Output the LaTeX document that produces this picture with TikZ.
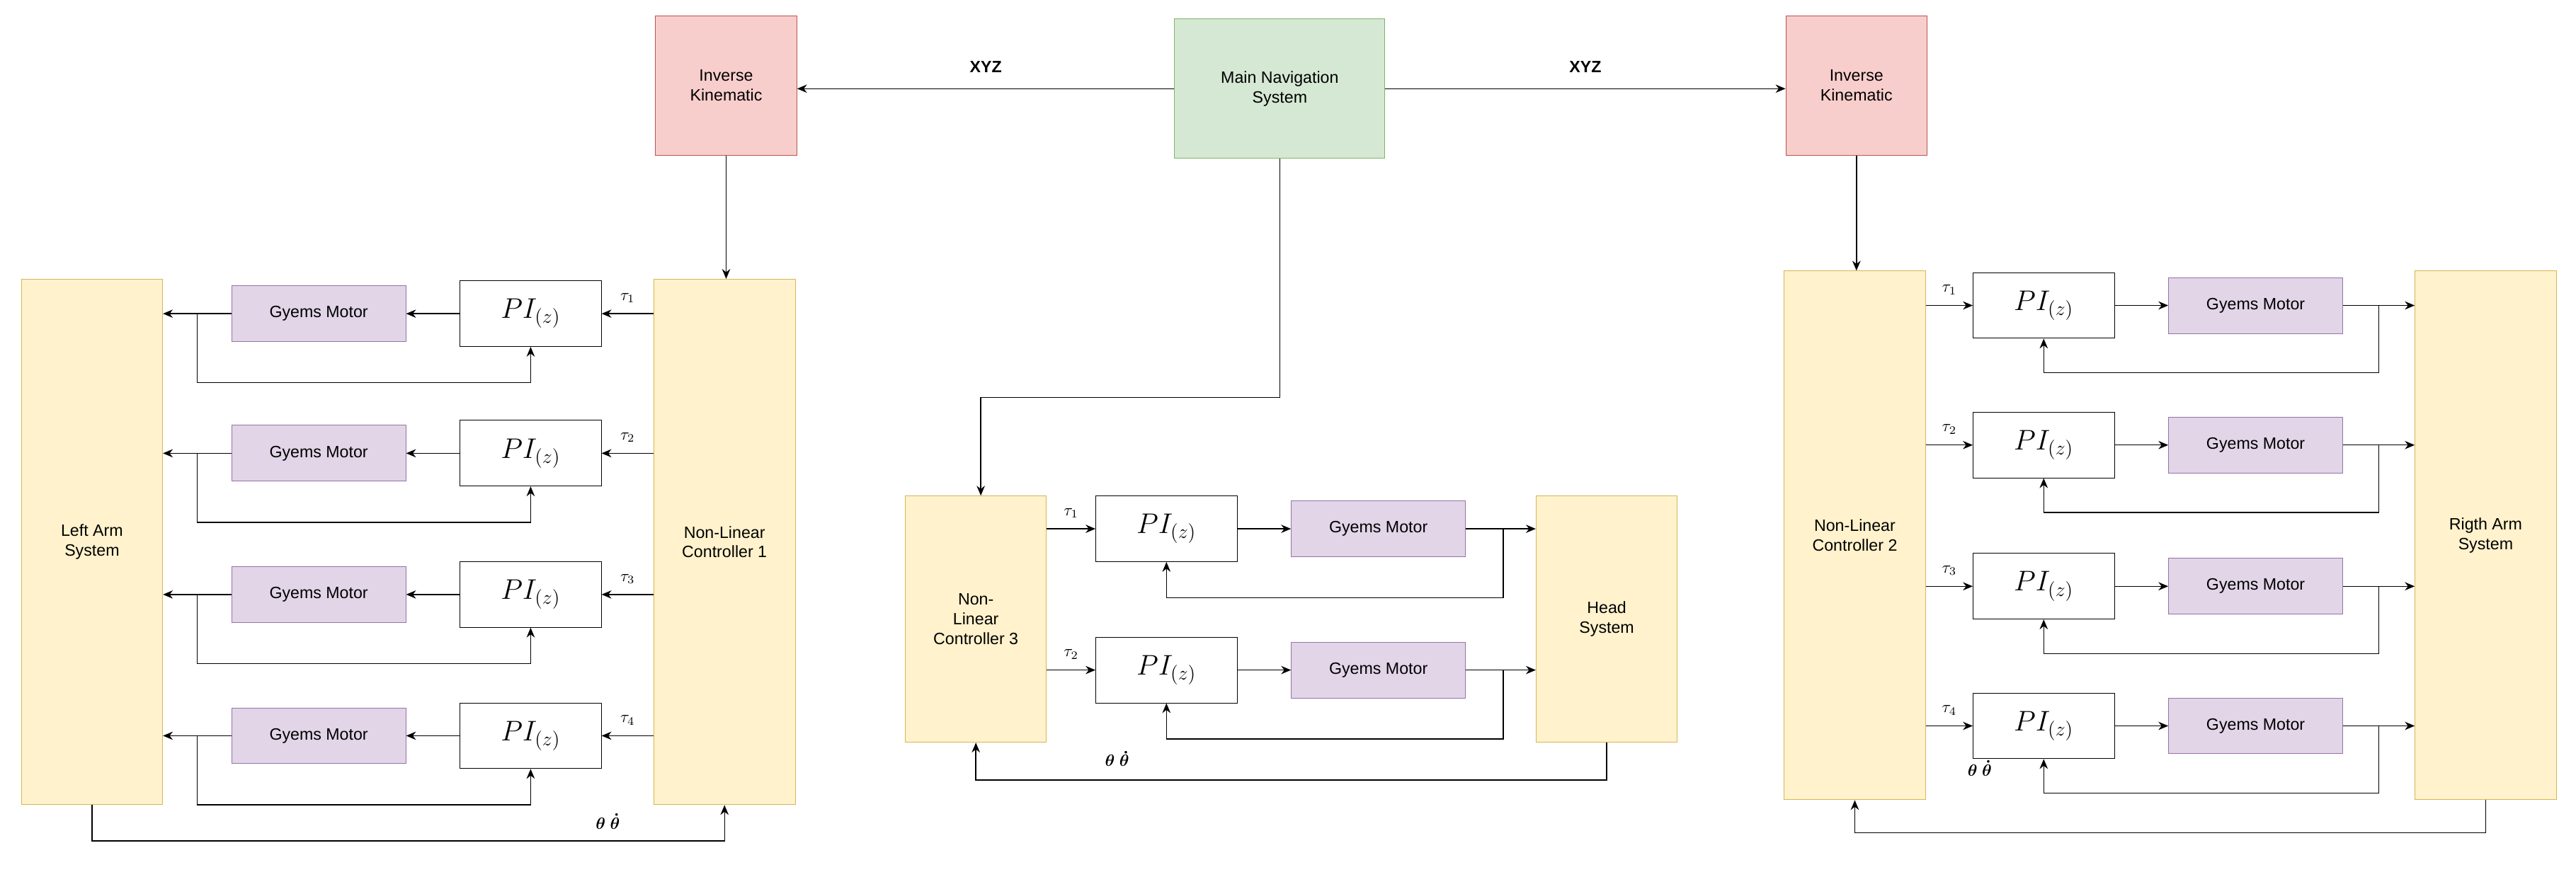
\documentclass[tikz,border=0pt]{standalone}
\usepackage{amsmath}
\usepackage{fontspec}
\setmainfont{Liberation Sans}
\usetikzlibrary{arrows.meta}
\definecolor{pinkf}{HTML}{F8CECC}\definecolor{pinkd}{HTML}{B85450}
\definecolor{greenf}{HTML}{D5E8D4}\definecolor{greend}{HTML}{82B366}
\definecolor{yelf}{HTML}{FFF2CC}\definecolor{yeld}{HTML}{D6B656}
\definecolor{purf}{HTML}{E1D5E7}\definecolor{purd}{HTML}{9673A6}
\begin{document}
\begin{tikzpicture}[x=1pt,y=-1pt,
 box/.style={draw,minimum width=#1,align=center,font=\fontsize{10}{12}\selectfont,inner sep=0pt},
 ik/.style={box=86pt,minimum height=85pt,fill=pinkf,draw=pinkd},
 nav/.style={box=128pt,minimum height=85pt,fill=greenf,draw=greend},
 yel/.style={box=86pt,fill=yelf,draw=yeld},
 mot/.style={box=106pt,minimum height=34pt,fill=purf,draw=purd},
 pi/.style={draw,minimum width=86pt,minimum height=40pt,fill=white,font=\LARGE},
 arr/.style={-{Stealth[length=6pt,width=5pt]},line width=0.6pt},
 lab/.style={font=\bfseries\fontsize{10}{12}\selectfont},
 tl/.style={font=\normalsize}]
\useasboundingbox (0,0) rectangle (1568,534);
\fill[white] (0,0) rectangle (1568,534);
\node[ik] (ikl) at (442,52) {Inverse\\Kinematic};
\node[nav] (nav) at (779,54) {Main Navigation\\System};
\node[ik] (ikr) at (1130,52) {Inverse\\Kinematic};
\draw[arr] (nav.west) -- node[lab,above=6pt]{XYZ} (nav.west-|ikl.east);
\draw[arr] (nav.east) -- node[lab,above=6pt]{XYZ} (nav.east-|ikr.west);
% left
\node[yel,minimum height=320pt] (nlc1) at (441,330) {Non-Linear\\Controller 1};
\node[yel,minimum height=320pt] (lam) at (56,330) {Left Arm\\System};
\draw[arr] (ikl.south) -- (ikl.south|-nlc1.north);
\foreach \i/\y in {1/191,2/276,3/362,4/448}{
 \node[pi] (lp\i) at (323,\y) {$PI_{(z)}$};
 \node[mot] (lm\i) at (194,\y) {Gyems Motor};
 \draw[arr] (nlc1.west|-lp\i) -- node[tl,above=3pt,pos=0.5]{$\tau_\i$} (lp\i.east);
 \draw[arr] (lp\i.west) -- (lm\i.east);
 \draw[arr] (lm\i.west) -- (lam.east|-lm\i);
 \coordinate (lf\i) at (120,\y);
 \draw[arr] (lf\i) -- ++(0,42) -| (lp\i.south);
}
\coordinate (lb1) at (56,512); \coordinate (lb2) at (441,512);
\draw[arr] (lam.south) -- (lb1) -- (lb2) -- (nlc1.south);
\node[lab] at (370,500) {$\boldsymbol{\theta}\ \boldsymbol{\dot\theta}$};
% center
\node[yel,minimum height=150pt] (nlc3) at (594,377) {Non-\\Linear\\Controller 3};
\node[yel,minimum height=150pt] (head) at (978,377) {Head\\System};
\coordinate (c1) at (779,242); \coordinate (c2) at (597,242);
\draw[arr] (nav.south) -- (c1) -- (c2) -- (c2|-nlc3.north);
\foreach \i/\y in {1/322,2/408}{
 \node[pi] (cp\i) at (710,\y) {$PI_{(z)}$};
 \node[mot] (cm\i) at (839,\y) {Gyems Motor};
 \draw[arr] (nlc3.east|-cp\i) -- node[tl,above=3pt]{$\tau_\i$} (cp\i.west);
 \draw[arr] (cp\i.east) -- (cm\i.west);
 \draw[arr] (cm\i.east) -- (head.west|-cm\i);
 \coordinate (cf\i) at (915,\y);
 \draw[arr] (cf\i) -- ++(0,42) -| (cp\i.south);
}
\coordinate (cb1) at (978,475); \coordinate (cb2) at (594,475);
\draw[arr] (head.south) -- (cb1) -- (cb2) -- (nlc3.south);
\node[lab] at (680,462) {$\boldsymbol{\theta}\ \boldsymbol{\dot\theta}$};
% right
\node[yel,minimum height=322pt] (nlc2) at (1129,326) {Non-Linear\\Controller 2};
\node[yel,minimum height=322pt] (ram) at (1513,326) {Rigth Arm\\System};
\draw[arr] (ikr.south) -- (ikr.south|-nlc2.north);
\foreach \i/\y in {1/186,2/271,3/357,4/442}{
 \node[pi] (rp\i) at (1244,\y) {$PI_{(z)}$};
 \node[mot] (rm\i) at (1373,\y) {Gyems Motor};
 \draw[arr] (nlc2.east|-rp\i) -- node[tl,above=3pt]{$\tau_\i$} (rp\i.west);
 \draw[arr] (rp\i.east) -- (rm\i.west);
 \draw[arr] (rm\i.east) -- (ram.west|-rm\i);
 \coordinate (rf\i) at (1448,\y);
 \draw[arr] (rf\i) -- ++(0,41) -| (rp\i.south);
}
\coordinate (rb1) at (1513,507); \coordinate (rb2) at (1129,507);
\draw[arr] (ram.south) -- (rb1) -- (rb2) -- (nlc2.south);
\node[lab] at (1205,468) {$\boldsymbol{\theta}\ \boldsymbol{\dot\theta}$};
\end{tikzpicture}
\end{document}
